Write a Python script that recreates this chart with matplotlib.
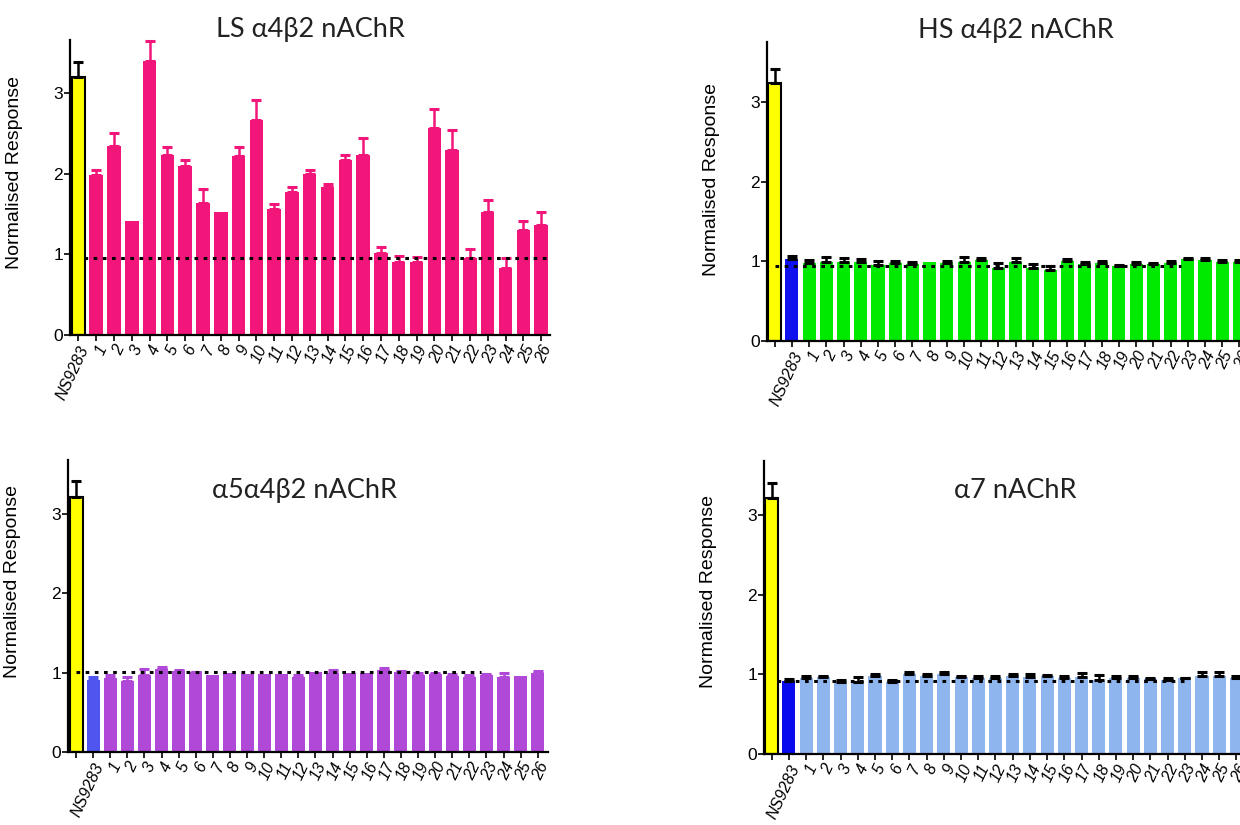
import numpy as np
import matplotlib
matplotlib.use('Agg')
import matplotlib.pyplot as plt

plt.rcParams['font.family'] = ['Liberation Sans', 'DejaVu Sans']

compounds = [str(i) for i in range(1, 27)]

# LS a4b2: NS9283 (yellow) then compounds 1-26
ls_ns = 3.20
ls_ns_err = 0.19
ls_vals = [1.98, 2.35, 1.41, 3.40, 2.23, 2.10, 1.64, 1.52, 2.22, 2.67,
           1.56, 1.78, 2.00, 1.83, 2.17, 2.23, 1.02, 0.91, 0.91, 2.57,
           2.29, 0.95, 1.52, 0.83, 1.30, 1.37]
ls_err = [0.07, 0.15, 0.0, 0.25, 0.10, 0.07, 0.17, 0.0, 0.11, 0.25,
          0.07, 0.05, 0.05, 0.04, 0.06, 0.21, 0.07, 0.07, 0.06, 0.23,
          0.25, 0.12, 0.15, 0.13, 0.12, 0.15]

# HS a4b2: yellow, NS9283 (blue), compounds
hs_yellow = 3.23
hs_yellow_err = 0.18
hs_ns = 1.03
hs_ns_err = 0.04
hs_vals = [0.98, 0.995, 0.995, 0.995, 0.95, 0.98, 0.965, 0.995, 0.98, 0.995,
           1.015, 0.92, 0.985, 0.92, 0.89, 1.00, 0.97, 0.98, 0.945, 0.97,
           0.96, 0.98, 1.03, 1.01, 0.995, 0.995]
hs_err = [0.04, 0.055, 0.045, 0.035, 0.05, 0.02, 0.025, 0.0, 0.02, 0.055,
          0.03, 0.055, 0.06, 0.04, 0.05, 0.025, 0.02, 0.02, 0.01, 0.02,
          0.02, 0.02, 0.01, 0.035, 0.015, 0.015]

# a5a4b2
a5_yellow = 3.22
a5_yellow_err = 0.19
a5_ns = 0.91
a5_ns_err = 0.035
a5_vals = [0.93, 0.90, 0.97, 1.04, 1.025, 1.005, 0.97, 0.99, 0.985, 0.985,
           0.985, 0.95, 1.01, 0.99, 1.00, 1.00, 1.035, 1.01, 0.97, 0.985,
           0.96, 0.94, 0.97, 0.94, 0.96, 1.00]
a5_err = [0.04, 0.05, 0.08, 0.03, 0.01, 0.005, 0.0, 0.0, 0.0, 0.0,
          0.0, 0.02, 0.0, 0.045, 0.0, 0.0, 0.02, 0.015, 0.02, 0.015,
          0.025, 0.03, 0.015, 0.06, 0.0, 0.025]

# a7
a7_yellow = 3.22
a7_yellow_err = 0.18
a7_ns = 0.92
a7_ns_err = 0.02
a7_vals = [0.96, 0.965, 0.91, 0.91, 0.98, 0.91, 1.01, 0.98, 1.01, 0.965,
           0.96, 0.96, 0.975, 0.965, 0.975, 0.95, 0.965, 0.93, 0.96, 0.96,
           0.94, 0.93, 0.95, 0.975, 0.975, 0.96]
a7_err = [0.02, 0.015, 0.02, 0.055, 0.03, 0.015, 0.02, 0.03, 0.02, 0.015,
          0.015, 0.02, 0.025, 0.045, 0.015, 0.025, 0.05, 0.065, 0.02, 0.015,
          0.02, 0.02, 0.01, 0.05, 0.05, 0.02]

# dotted reference lines: level, start, end (category positions)
ref_ls = (0.95, 0.3, 26.6)
ref_hs = (0.94, 0.0, 23.6)
ref_a5 = (1.005, 0.0, 23.7)
ref_a7 = (0.92, 0.3, 24.0)

pink = '#F2167B'
green = '#00EA00'
purple = '#B048D8'
lightblue = '#8FB5EE'
yellow = '#FFFF00'

fig = plt.figure(figsize=(12.4, 8.25), dpi=100)

title_font = ['Lato', 'DejaVu Sans']


def panel(rect, ylim, xlim, vals, errs, colors, ecolors, labels, ref, title,
          tpos, lab_y):
    ax = fig.add_axes(rect)
    x = np.arange(len(vals))
    vals = np.array(vals)
    errs = np.array(errs)
    edge = ['black' if c == yellow else 'none' for c in colors]
    ax.bar(x, vals, width=0.76, color=colors, edgecolor=edge, linewidth=1.5,
           zorder=2)
    for xi, v, e, ec in zip(x, vals, errs, ecolors):
        if e > 0:
            ax.errorbar(xi, v, yerr=[[0], [e]], fmt='none', ecolor=ec,
                        elinewidth=1.8, capsize=3.5, capthick=2.2, zorder=3,
                        clip_on=False)
    lvl, x0, x1 = ref
    ax.plot([x0, x1], [lvl, lvl], color='black', linestyle=(0, (1.2, 1.8)),
            linewidth=2.2, zorder=4)
    ax.set_ylim(*ylim)
    ax.set_xlim(*xlim)
    ax.set_yticks([0, 1, 2, 3])
    ax.set_xticks(x)
    ax.set_xticklabels(labels, rotation=65, ha='right', rotation_mode='anchor',
                       fontstyle='italic', fontsize=11.5)
    ax.tick_params(axis='y', labelsize=12.5, length=4, width=1.2, pad=1)
    ax.tick_params(axis='x', length=4, width=1.2, pad=2)
    for s in ['top', 'right']:
        ax.spines[s].set_visible(False)
    for s in ['left', 'bottom']:
        ax.spines[s].set_linewidth(1.6)
    ax.set_ylabel('Normalised Response', fontsize=14)
    ax.yaxis.set_label_coords(-0.098, lab_y)
    fig.text(tpos[0], tpos[1], title, ha='center', va='baseline',
             fontsize=19.5, family=title_font, color='#222222')
    return ax


W, H = 1240, 825

# LS panel
panel([70 / W, 1 - 335 / H, 480 / W, 295 / H], (0, 3.66), (-0.47, 26.5),
      [ls_ns] + ls_vals, [ls_ns_err] + ls_err,
      [yellow] + [pink] * 26, ['black'] + [pink] * 26,
      ['NS9283'] + compounds, ref_ls, 'LS α4β2 nAChR',
      (310 / W, 1 - 37 / H), 0.55)

# HS panel
panel([767 / W, 1 - 341 / H, 481 / W, 299 / H], (0, 3.75), (-0.45, 27.5),
      [hs_yellow, hs_ns] + hs_vals, [hs_yellow_err, hs_ns_err] + hs_err,
      [yellow, '#1010EE'] + [green] * 26, ['black'] * 28,
      ['', 'NS9283'] + compounds, ref_hs, 'HS α4β2 nAChR',
      (1016 / W, 1 - 38 / H), 0.54)

# a5a4b2 panel
panel([68 / W, 1 - 752 / H, 480 / W, 292 / H], (0, 3.68), (-0.47, 27.6),
      [a5_yellow, a5_ns] + a5_vals, [a5_yellow_err, a5_ns_err] + a5_err,
      [yellow, '#4F55EE'] + [purple] * 26, ['black', '#4F55EE'] + [purple] * 26,
      ['', 'NS9283'] + compounds, ref_a5, 'α5α4β2 nAChR',
      (305 / W, 1 - 498 / H), 0.585)

# a7 panel
panel([764 / W, 1 - 754 / H, 481 / W, 293 / H], (0, 3.68), (-0.45, 27.5),
      [a7_yellow, a7_ns] + a7_vals, [a7_yellow_err, a7_ns_err] + a7_err,
      [yellow, '#0A0AEE'] + [lightblue] * 26, ['black'] * 28,
      ['', 'NS9283'] + compounds, ref_a7, 'α7 nAChR',
      (1015 / W, 1 - 498 / H), 0.553)

fig.savefig('out.png', dpi=100)
